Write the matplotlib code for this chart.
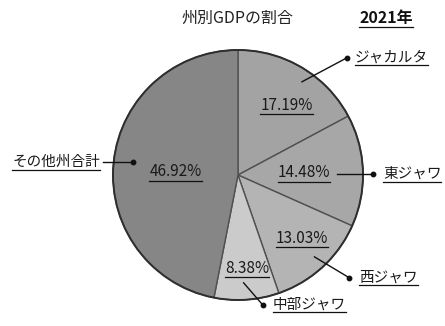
import numpy as np
import matplotlib
matplotlib.use("Agg")
import matplotlib.pyplot as plt
from matplotlib.lines import Line2D

plt.rcParams['font.family'] = ['Noto Sans CJK JP', 'DejaVu Sans']

# Share of GDP by province, 2021
regions = ["ジャカルタ", "東ジャワ", "西ジャワ", "中部ジャワ", "その他州合計"]
shares = [17.19, 14.48, 13.03, 8.38, 46.92]
title = "州別GDPの割合"
year_label = "2021年"

colors = ["#a3a3a3", "#a7a7a7", "#b4b4b4", "#cbcbcb", "#868686"]

W, H = 445, 326
fig = plt.figure(figsize=(W / 100, H / 100), dpi=100)
ax = fig.add_axes([0, 0, 1, 1])
ax.set_xlim(0, W)
ax.set_ylim(0, H)
ax.axis("off")

cx, cy, R = 238, H - 175, 125

wedges, _ = ax.pie(shares, colors=colors, startangle=90, counterclock=False,
                   center=(cx, cy), radius=R, frame=True,
                   wedgeprops=dict(edgecolor="#505050", linewidth=1.0))
ax.set_xlim(0, W)
ax.set_ylim(0, H)
ax.axis("off")

# outer rim a bit darker
rim = plt.Circle((cx, cy), R, fill=False, edgecolor="#2e2e2e", linewidth=1.4)
ax.add_patch(rim)

# mid angle of each wedge (degrees, math convention)
mids = [np.deg2rad((w.theta1 + w.theta2) / 2) for w in wedges]

def polar(ang, r):
    return cx + r * np.cos(ang), cy + r * np.sin(ang)

# percentage labels: (radius fraction, angle shift in degrees)
pct_layout = [(0.68, -4), (0.53, 0), (0.72, 3), (0.75, 1.5), (0.50, 2.5)]
# leader lines: (start radius, start angle shift, end dx, end dy, dot at end?)
lead_layout = [
    (113, -3.5, 45, 24, True),
    (99, -1.5, 36, 0, True),
    (112, 0.5, 35, -21, True),
    (108, -1, 19, -22, True),
    (106, -1.5, -30, 0, False),
]
# region names relative to leader end: (dx, dy, ha)
name_layout = [(8, 0, "left"), (10, 0, "left"), (10, 0, "left"), (10, 0, "left"), (-3, 0, "right")]

pct_texts = []
for ang, val, (rf, dshift) in zip(mids, shares, pct_layout):
    x, y = polar(ang + np.deg2rad(dshift), rf * R)
    t = ax.text(x, y, f"{val:.2f}%", ha="center", va="center",
                fontsize=11, color="#1a1a1a")
    pct_texts.append(t)

name_texts = []
for ang, name, (r0, ashift, dx, dy, dot_end), (tx, ty, ha) in zip(
        mids, regions, lead_layout, name_layout):
    x0, y0 = polar(ang + np.deg2rad(ashift), r0)
    x1, y1 = x0 + dx, y0 + dy
    ax.plot([x0, x1], [y0, y1], color="#111111", linewidth=1.0)
    dx_, dy_ = (x1, y1) if dot_end else (x0, y0)
    ax.plot([dx_], [dy_], marker="o", markersize=3.2, color="#111111")
    tx0 = x1 if dot_end else x1
    t = ax.text(tx0 + tx, y1 + ty, name, ha=ha, va="center",
                fontsize=10.5, color="#1a1a1a")
    name_texts.append(t)

ax.text(cx, H - 18, title, ha="center", va="center", fontsize=11.5, color="#222222")
yt = ax.text(386, H - 18, year_label, ha="center", va="center", fontsize=11.5,
             fontweight="bold", color="#111111")

# underline selected texts
fig.canvas.draw()
renderer = fig.canvas.get_renderer()
for t in pct_texts + name_texts + [yt]:
    bb = t.get_window_extent(renderer)
    yline = bb.y0 - 0.5
    fig.add_artist(Line2D([bb.x0 / W, bb.x1 / W], [yline / H, yline / H],
                          transform=fig.transFigure, color="#111111", linewidth=0.9))

fig.savefig("out.png", dpi=100)
